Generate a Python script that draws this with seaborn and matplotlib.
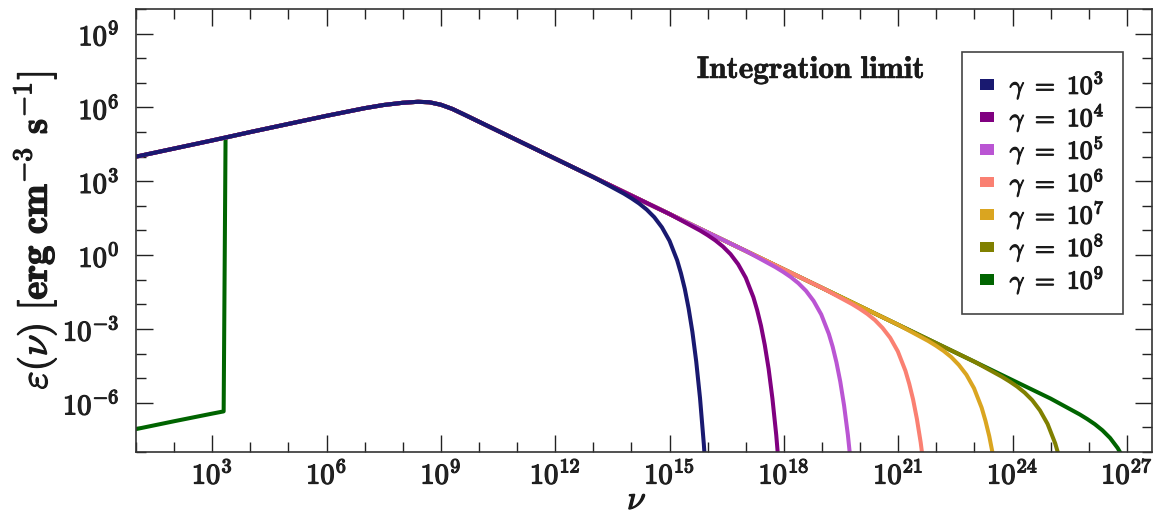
import numpy as np
import pandas as pd
import seaborn as sns
import matplotlib
matplotlib.use("Agg")
import matplotlib.pyplot as plt
import matplotlib.patheffects as pe
from matplotlib.ticker import FixedLocator, FuncFormatter, NullFormatter
from matplotlib.patches import Patch

# ---- values (log10 of nu and of emissivity) ----
# shared low/mid-frequency part of every curve
env_lognu = [1.0, 2.0, 3.0, 4.0, 5.0, 6.0, 7.0, 7.5, 8.0, 8.4, 8.7, 9.0, 9.3,
             9.6, 10.0, 11.0, 12.0, 13.0]
env_logeps = [4.00, 4.33, 4.66, 5.00, 5.33, 5.66, 5.97, 6.10, 6.19, 6.23, 6.21,
              6.11, 5.94, 5.72, 5.42, 4.67, 3.92, 3.17]
# shared high-frequency power law (before each cut-off)
hi_lognu = [14.0, 15.0, 16.0, 17.0, 18.0, 19.0, 20.0, 21.0, 22.0, 23.0, 24.0, 25.0]
hi_logeps = [2.42, 1.67, 0.92, 0.17, -0.58, -1.33, -2.08, -2.83, -3.58, -4.33,
             -5.08, -5.83]

# cut-off tails for each Lorentz factor
tail3_lognu = [13.8, 14.0, 14.2, 14.4, 14.6, 14.8, 15.0, 15.2, 15.3, 15.4, 15.5,
               15.6, 15.7, 15.8, 15.9, 16.0]
tail3_logeps = [2.50, 2.31, 2.10, 1.85, 1.54, 1.13, 0.58, -0.21, -0.74, -1.37,
                -2.16, -3.12, -4.32, -5.81, -7.68, -9.99]
tail4_lognu = [15.8, 16.0, 16.2, 16.4, 16.6, 16.8, 17.0, 17.2, 17.3, 17.4, 17.5,
               17.6, 17.7, 17.8, 17.9]
tail4_logeps = [1.00, 0.81, 0.60, 0.35, 0.04, -0.37, -0.92, -1.71, -2.24, -2.87,
                -3.66, -4.62, -5.83, -7.31, -9.17]
tail5_lognu = [17.78, 17.98, 18.18, 18.38, 18.58, 18.78, 18.98, 19.18, 19.28,
               19.38, 19.48, 19.58, 19.68, 19.78]
tail5_logeps = [-0.49, -0.68, -0.89, -1.14, -1.45, -1.86, -2.41, -3.20, -3.72,
                -4.36, -5.14, -6.11, -7.31, -8.80]
tail6_lognu = [19.79, 19.99, 20.19, 20.39, 20.59, 20.79, 20.99, 21.19, 21.29,
               21.39, 21.49, 21.59, 21.69]
tail6_logeps = [-1.99, -2.18, -2.39, -2.64, -2.96, -3.36, -3.91, -4.70, -5.23,
                -5.86, -6.65, -7.61, -8.82]
tail7_lognu = [21.79, 21.99, 22.19, 22.39, 22.59, 22.79, 22.99, 23.19, 23.29,
               23.39, 23.49, 23.59]
tail7_logeps = [-3.49, -3.68, -3.89, -4.14, -4.46, -4.86, -5.41, -6.20, -6.73,
                -7.36, -8.15, -9.11]
tail8_lognu = [23.72, 23.92, 24.12, 24.32, 24.52, 24.72, 24.92, 25.12, 25.22, 25.32]
tail8_logeps = [-4.94, -5.13, -5.34, -5.59, -5.90, -6.31, -6.86, -7.65, -8.18, -8.81]
tail9_lognu = [25.76, 25.96, 26.16, 26.36, 26.56, 26.76, 26.96, 27.16]
tail9_logeps = [-6.47, -6.66, -6.87, -7.12, -7.43, -7.84, -8.39, -9.18]
# gamma = 1e9: low-frequency part below the integration limit
low9_lognu = [1.0, 2.0, 3.0, 3.30, 3.35]
low9_logeps = [-7.07, -6.75, -6.44, -6.35, 4.77]

gamma_exps = [3, 4, 5, 6, 7, 8, 9]
colors = ["#191970", "#800080", "#BA55D3", "#FA8072", "#DAA520", "#808000", "#006400"]
tails = {3: (tail3_lognu, tail3_logeps), 4: (tail4_lognu, tail4_logeps),
         5: (tail5_lognu, tail5_logeps), 6: (tail6_lognu, tail6_logeps),
         7: (tail7_lognu, tail7_logeps), 8: (tail8_lognu, tail8_logeps),
         9: (tail9_lognu, tail9_logeps)}

labels = [r"$\gamma\ \mathbf{=\ 10^{%d}}$" % k for k in gamma_exps]

rows = []
for k, label in zip(gamma_exps, labels):
    tx, ty = tails[k]
    if k == 9:
        xs = list(low9_lognu) + env_lognu[3:]
        ys = list(low9_logeps) + env_logeps[3:]
    else:
        xs = list(env_lognu)
        ys = list(env_logeps)
    for hx, hy in zip(hi_lognu, hi_logeps):
        if hx < tx[0]:
            xs.append(hx)
            ys.append(hy)
    xs += tx
    ys += ty
    for a, b in zip(xs, ys):
        rows.append({"nu": 10.0 ** a, "eps": 10.0 ** b, "label": label})
df = pd.DataFrame(rows)
palette = dict(zip(labels, colors))

sns.set_theme(style="ticks")
TXT = "#1a1a1a"
plt.rcParams.update({
    "mathtext.fontset": "cm",
    "axes.edgecolor": "#333333",
    "axes.linewidth": 1.2,
    "xtick.color": "#222222",
    "ytick.color": "#222222",
    "text.color": TXT,
    "axes.labelcolor": TXT,
})
heavy = [pe.withStroke(linewidth=0.9, foreground=TXT)]

fig = plt.figure(figsize=(11.67, 5.17), dpi=100)
ax = fig.add_axes([136 / 1167, 1 - 452 / 517, (1152 - 136) / 1167, (452 - 9) / 517])
ax.set_xscale("log")
ax.set_yscale("log")

sns.lineplot(data=df, x="nu", y="eps", hue="label", hue_order=labels[::-1],
             palette=palette, sort=False, estimator=None, linewidth=2.9,
             legend=False, ax=ax)

ax.set_xlim(10 ** 1.0, 10 ** 27.66)
ax.set_ylim(1e-8, 1e10)

fmt = FuncFormatter(lambda v, p: r"$\mathbf{10^{%d}}$" % int(round(np.log10(v))))
ax.xaxis.set_major_locator(FixedLocator([10.0 ** k for k in range(3, 28, 3)]))
ax.xaxis.set_minor_locator(FixedLocator([10.0 ** k for k in range(1, 28) if k % 3]))
ax.yaxis.set_major_locator(FixedLocator([10.0 ** k for k in range(-6, 10, 3)]))
ax.yaxis.set_minor_locator(FixedLocator([10.0 ** k for k in range(-8, 11) if k % 3]))
ax.xaxis.set_major_formatter(fmt)
ax.yaxis.set_major_formatter(fmt)
ax.xaxis.set_minor_formatter(NullFormatter())
ax.yaxis.set_minor_formatter(NullFormatter())
ax.tick_params(which="both", direction="in", top=True, right=True, width=1.0)
ax.tick_params(which="major", length=12, labelsize=20.5)
ax.tick_params(which="minor", length=7)
ax.tick_params(axis="x", which="major", pad=6)
ax.tick_params(axis="y", which="major", pad=12)
for t in ax.get_xticklabels() + ax.get_yticklabels():
    t.set_path_effects(heavy)

xl = ax.set_xlabel(r"$\nu$", fontsize=24, labelpad=-4.5)
xl.set_x(0.493)
yl = ax.set_ylabel(r"$\varepsilon\mathbf{(}\nu\mathbf{)\ [erg\ cm^{-3}\ s^{-1}]}$",
                   fontsize=28, labelpad=3)
xl.set_path_effects(heavy)
yl.set_path_effects(heavy)

handles = [Patch(facecolor=c, edgecolor="none") for c in colors]
leg = ax.legend(handles, labels, loc="upper right", bbox_to_anchor=(0.971, 0.904),
                fontsize=18.5, frameon=True, fancybox=False, framealpha=1,
                edgecolor="#444444", handlelength=0.55, handleheight=0.25,
                handletextpad=0.6, labelspacing=0.03, borderpad=0.7,
                borderaxespad=0)
leg.get_frame().set_linewidth(1.2)
for t in leg.get_texts():
    t.set_path_effects(heavy)

it = ax.text(0.552, 0.844, r"$\mathbf{Integration\ limit}$", transform=ax.transAxes,
             fontsize=22.5, ha="left", va="baseline")
it.set_path_effects([pe.withStroke(linewidth=0.4, foreground=TXT)])

fig.savefig("out.png", dpi=100)
